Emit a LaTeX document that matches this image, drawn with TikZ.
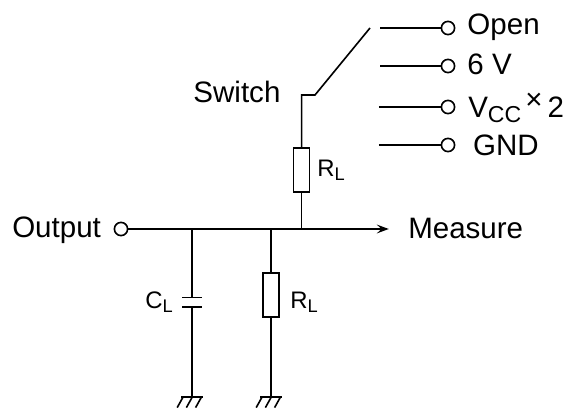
\documentclass[tikz,border=0pt]{standalone}
\usepackage{fontspec}
\setmainfont{Liberation Sans}
\usetikzlibrary{arrows.meta, positioning, calc}
\newcommand{\bigsub}[2]{#1\raisebox{-.36ex}{\fontsize{16.4}{16}\selectfont #2}}
\newcommand{\smallsub}[2]{#1\raisebox{-.3ex}{\fontsize{13}{13}\selectfont #2}}
\tikzset{
	wire/.style={line width=1.15pt},
	res/.style={rectangle, draw, line width=1.15pt, minimum width=4mm, minimum height=11mm, inner sep=0pt},
	term/.style={circle, draw, line width=1.15pt, minimum size=3.3mm, inner sep=0pt},
	lbl/.style={inner sep=0pt, anchor=west, font=\fontsize{21}{24}\selectfont},
	val/.style={inner sep=0pt, anchor=west, font=\fontsize{17}{18}\selectfont}
}
\begin{document}
\begin{tikzpicture}
		\useasboundingbox (0,0) rectangle (14.25,10.25);
		
		% --- Switch Terminals ---
		\node[term] (t_open) at (11.2,9.55) {};
		\node[term] (t_six) at (11.2,8.6) {};
		\node[term] (t_vcc) at (11.2,7.575) {};
		\node[term] (t_gnd) at (11.2,6.625) {};
		\coordinate (s_open) at (9.5,9.55);
		\coordinate (s_six) at (9.5,8.6);
		\coordinate (s_vcc) at (9.47,7.575);
		\coordinate (s_gnd) at (9.47,6.625);
		\draw[wire] (s_open) -- (t_open);
		\draw[wire] (s_six) -- (t_six);
		\draw[wire] (s_vcc) -- (t_vcc);
		\draw[wire] (s_gnd) -- (t_gnd);
		
		\node[lbl] (l_open) at (11.68,9.58) {Open};
		\node[lbl] (l_six) at (11.68,8.65) {6 V};
		\node[lbl] (l_vcc) at (11.7,7.55) {\bigsub{V}{CC}\kern 3pt\raisebox{.5ex}{\fontsize{21}{21}\selectfont ×}\kern 3.5pt 2};
		\node[lbl] (l_gnd) at (11.82,6.625) {GND};
		
		% --- Switch Arm ---
		\coordinate (blade) at (9.25,9.55);
		\coordinate (knee) at (7.875,7.875);
		\coordinate (corner) at (7.54,7.875);
		\node[lbl] (l_switch) at (4.83,7.95) {Switch};
		\node[res] (r_top) at (7.54,6) {};
		\node[val] (l_rtop) at (7.93,6) {\smallsub{R}{L}};
		\draw[wire] (blade) -- (knee) -- (corner) -- (r_top);
		
		% --- Main Horizontal Line ---
		\node[term] (t_out) at (3.025,4.525) {};
		\node[lbl] (l_out) at (0.3,4.5) {Output};
		\coordinate (j_cap) at (4.8,4.525);
		\coordinate (j_res) at (6.775,4.525);
		\coordinate (j_top) at (7.54,4.525);
		\coordinate (m_end) at (9.72,4.525);
		\node[lbl] (l_meas) at (10.2,4.55) {Measure};
		\draw[wire,-{Stealth[length=3mm, width=2.2mm, inset=1.2mm]}] (t_out) -- (m_end);
		\draw[wire] (r_top) -- (j_top);
		
		% --- Capacitor Branch ---
		\coordinate (cap_a) at (4.8,2.81);
		\coordinate (cap_b) at (4.8,2.57);
		\coordinate (g_cap) at (4.8,.33);
		\draw[wire] (j_cap) -- (cap_a);
		\draw[wire] (cap_b) -- (g_cap);
		\draw[wire] ($(cap_a)+(-.24,0)$) -- ($(cap_a)+(.24,0)$);
		\draw[wire] ($(cap_b)+(-.24,0)$) -- ($(cap_b)+(.24,0)$);
		\node[val] (l_cap) at (3.63,2.7) {\smallsub{C}{L}};
		
		% --- Resistor Branch ---
		\node[res] (r_bot) at (6.775,2.875) {};
		\coordinate (g_res) at (6.775,.33);
		\draw[wire] (j_res) -- (r_bot);
		\draw[wire] (r_bot) -- (g_res);
		\node[val] (l_rbot) at (7.25,2.7) {\smallsub{R}{L}};
		
		% --- Ground Hatches ---
		\foreach \g in {g_cap,g_res} {
			\draw[wire] ($(\g)+(-.27,0)$) -- ($(\g)+(.27,0)$);
			\foreach \d in {-.22,.01,.24}
				\draw[wire] ($(\g)+(\d,0)$) -- ++(-.15,-.27);
		}
	\end{tikzpicture}
\end{document}
